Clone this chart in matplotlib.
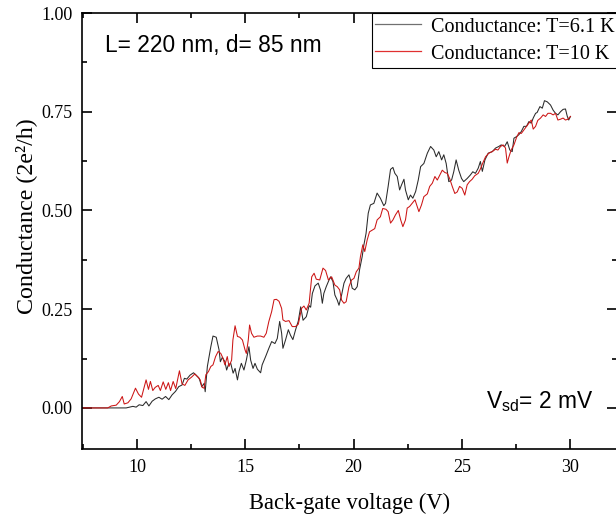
import matplotlib
matplotlib.use("Agg")
import matplotlib.pyplot as plt
from matplotlib.ticker import MultipleLocator

plt.rcParams['mathtext.fontset'] = 'custom'
plt.rcParams['mathtext.rm'] = 'Liberation Sans'
plt.rcParams['mathtext.it'] = 'Liberation Sans:italic'

# ---- data ----
v_black = [7.5, 8.0, 8.5, 9.0, 9.5, 9.81, 9.96, 10.1, 10.27, 10.42, 10.55, 10.7, 10.85, 11.01,
           11.16, 11.32, 11.47, 11.62, 11.78, 11.93, 12.08, 12.19, 12.3, 12.45, 12.61, 12.71,
           12.87, 12.99, 13.1, 13.15, 13.25, 13.41, 13.51, 13.66, 13.79, 13.85, 13.94, 14.06,
           14.14, 14.22, 14.33, 14.44, 14.53, 14.64, 14.71, 14.82, 14.94, 15.05, 15.17, 15.25,
           15.36, 15.45, 15.56, 15.71, 15.78, 15.94, 16.09, 16.22, 16.37, 16.48, 16.59, 16.68,
           16.74, 16.86, 16.99, 17.09, 17.2, 17.32, 17.45, 17.56, 17.67, 17.82, 17.95, 18.02,
           18.1, 18.22, 18.37, 18.48, 18.56, 18.63, 18.74, 18.87, 18.94, 19.05, 19.14, 19.25,
           19.33, 19.45, 19.56, 19.66, 19.79, 19.86, 19.94, 20.06, 20.17, 20.28, 20.4, 20.48,
           20.58, 20.68, 20.78, 20.94, 21.09, 21.24, 21.4, 21.48, 21.6, 21.71, 21.82, 21.91,
           22.02, 22.13, 22.22, 22.33, 22.4, 22.53, 22.63, 22.74, 22.87, 22.99, 23.1, 23.25,
           23.41, 23.56, 23.71, 23.82, 23.94, 24.07, 24.17, 24.28, 24.4, 24.53, 24.63, 24.74,
           24.86, 24.99, 25.09, 25.25, 25.4, 25.51, 25.63, 25.76, 25.86, 25.95, 26.07, 26.22,
           26.41, 26.56, 26.71, 26.82, 26.98, 27.1, 27.22, 27.33, 27.41, 27.53, 27.64, 27.75,
           27.87, 27.99, 28.1, 28.21, 28.3, 28.41, 28.48, 28.61, 28.72, 28.82, 28.95, 29.1,
           29.22, 29.33, 29.44, 29.56, 29.68, 29.79, 29.87, 29.94, 30.02]
g_black = [0, 0, 0, 0, 0.0, .004, .002, .008, .006, .016, .005, .017, .023, .027,
           .022, .029, .021, .033, .042, .054, .058, .075, .073, .083, .089, .084,
           .075, .054, .062, .041, .105, .155, .182, .179, .147, .117, .128, .117,
           .096, .109, .113, .088, .100, .071, .092, .113, .096, .121, .155, .121,
           .100, .113, .098, .089, .109, .130, .151, .168, .163, .176, .219, .189,
           .151, .172, .198, .184, .173, .197, .22, .256, .222, .231, .259, .255,
           .29, .309, .316, .298, .265, .29, .307, .324, .332, .32, .286, .273,
           .26, .286, .316, .328, .337, .324, .303, .299, .307, .35, .383, .413,
           .442, .493, .514, .518, .544, .531, .512, .518, .561, .604, .609, .594,
           .586, .552, .565, .579, .552, .527, .539, .531, .548, .577, .611, .619,
           .645, .662, .653, .636, .649, .628, .641, .619, .573, .577, .598, .628,
           .602, .581, .573, .581, .590, .598, .594, .607, .624, .599, .628, .645,
           .649, .658, .662, .666, .662, .674, .653, .649, .683, .687, .692, .70,
           .713, .713, .725, .721, .734, .746, .748, .763, .759, .778, .775, .767,
           .754, .746, .742, .75, .756, .757, .739, .729, .738]

v_red = [7.5, 8.0, 8.65, 8.81, 9.04, 9.19, 9.32, 9.41, 9.58, 9.73, 9.93, 10.07, 10.21, 10.42,
         10.53, 10.62, 10.73, 10.84, 10.98, 11.08, 11.21, 11.33, 11.45, 11.55, 11.67, 11.79,
         11.96, 12.08, 12.21, 12.36, 12.52, 12.67, 12.82, 12.92, 13.01, 13.1, 13.18, 13.3,
         13.41, 13.51, 13.63, 13.75, 13.87, 13.97, 14.06, 14.17, 14.25, 14.37, 14.43, 14.53,
         14.64, 14.75, 14.87, 14.99, 15.05, 15.14, 15.2, 15.29, 15.4, 15.56, 15.71, 15.86,
         15.97, 16.09, 16.22, 16.33, 16.44, 16.56, 16.68, 16.74, 16.86, 17.02, 17.17, 17.32,
         17.45, 17.6, 17.71, 17.82, 17.95, 18.07, 18.18, 18.28, 18.44, 18.59, 18.71, 18.84,
         18.99, 19.14, 19.25, 19.36, 19.45, 19.56, 19.66, 19.79, 19.91, 20.02, 20.13, 20.25,
         20.32, 20.43, 20.52, 20.63, 20.74, 20.86, 20.98, 21.09, 21.24, 21.35, 21.5, 21.6,
         21.71, 21.82, 21.94, 22.07, 22.18, 22.28, 22.4, 22.48, 22.59, 22.71, 22.84, 22.94,
         23.02, 23.14, 23.25, 23.41, 23.52, 23.64, 23.76, 23.87, 23.99, 24.1, 24.22, 24.33,
         24.44, 24.56, 24.68, 24.79, 24.9, 25.02, 25.14, 25.25, 25.36, 25.48, 25.6, 25.76,
         25.86, 25.97, 26.1, 26.25, 26.4, 26.56, 26.67, 26.79, 26.91, 27.02, 27.1, 27.18,
         27.28, 27.41, 27.53, 27.64, 27.75, 27.87, 27.99, 28.1, 28.21, 28.3, 28.41, 28.51,
         28.64, 28.76, 28.87, 28.98, 29.1, 29.22, 29.33, 29.44, 29.56, 29.68, 29.79, 29.9, 30.02]
g_red = [0, 0, 0, .005, .007, .016, .029, .010, .013, .023, .050, .035, .027, .071,
         .047, .067, .044, .052, .057, .044, .066, .047, .064, .044, .067, .049,
         .094, .061, .057, .071, .078, .086, .078, .071, .052, .05, .084, .092,
         .105, .109, .130, .143, .138, .126, .109, .130, .105, .121, .172, .208,
         .181, .179, .172, .147, .138, .172, .21, .189, .179, .182, .182, .179,
         .189, .219, .244, .274, .275, .270, .252, .223, .219, .221, .206, .206,
         .212, .252, .258, .248, .265, .332, .341, .326, .324, .354, .348, .324,
         .332, .311, .307, .299, .273, .265, .269, .307, .324, .328, .345, .354,
         .383, .413, .396, .425, .446, .45, .454, .476, .484, .505, .503, .497,
         .468, .476, .489, .5, .476, .459, .476, .506, .51, .518, .527, .51,
         .497, .514, .535, .542, .561, .569, .586, .577, .59, .602, .596, .594,
         .581, .561, .543, .547, .561, .556, .539, .565, .573, .579, .588, .594,
         .605, .62, .636, .645, .649, .655, .653, .662, .666, .658, .62, .636,
         .653, .666, .685, .697, .695, .704, .713, .721, .729, .706, .713, .728,
         .734, .742, .738, .746, .746, .742, .746, .729, .731, .734, .729, .731, .738]

x_ticks = [10, 15, 20, 25, 30]
y_ticks = [0.00, 0.25, 0.50, 0.75, 1.00]
y_ticklabels = ["0.00", "0.25", "0.50", "0.75", "1.00"]

W, H = 616, 518
fig = plt.figure(figsize=(W / 100, H / 100), dpi=100)
ax = fig.add_axes([82 / W, 1 - 449 / H, (617 - 82) / W, (449 - 13) / H])

ax.plot(v_black, g_black, color='#2a2a2a', lw=0.75, label='Conductance: T=6.1 K')
ax.plot(v_red, g_red, color='#cc1515', lw=0.75, label='Conductance: T=10 K')

ax.set_xlim(7.46, 32.17)
ax.set_ylim(-0.104, 1.0)
ax.set_xticks(x_ticks)
ax.set_yticks(y_ticks)
ax.set_yticklabels(y_ticklabels)
ax.xaxis.set_minor_locator(MultipleLocator(2.5))
ax.yaxis.set_minor_locator(MultipleLocator(0.125))
ax.tick_params(which='both', direction='in', top=True, right=True, width=1.2,
               labelsize=13, pad=7)
ax.tick_params(which='major', length=7)
ax.tick_params(which='minor', length=3.8)
for lab in ax.get_xticklabels() + ax.get_yticklabels():
    lab.set_family('Liberation Serif')
for s in ax.spines.values():
    s.set_linewidth(1.2)

ax.set_xlabel('Back-gate voltage (V)', family='Liberation Serif', fontsize=16.3, labelpad=12)
ax.set_ylabel('Conductance (2e²/h)', family='Liberation Serif', fontsize=17.3)
ax.yaxis.set_label_coords(-0.084, 0.533)

fig.text(105 / W, 1 - 52 / H, 'L= 220 nm, d= 85 nm', family='Liberation Sans',
         fontsize=16.4, va='baseline', ha='left')
fig.text(486 / W, 1 - 408 / H, r'V$_{\mathregular{sd}}$= 2 mV', family='Liberation Sans',
         fontsize=16.4, va='baseline', ha='left')

leg = ax.legend(loc='upper left', bbox_to_anchor=(372 / W, 1 - 13 / H),
                bbox_transform=fig.transFigure, borderaxespad=0,
                prop={'family': 'Liberation Serif', 'size': 14.5},
                frameon=True, fancybox=False, framealpha=1, edgecolor='black',
                handlelength=2.3, handleheight=1.05, handletextpad=0.5,
                borderpad=0.15, labelspacing=0.3)
leg.get_frame().set_linewidth(0.8)
leg.get_lines()[0].set_color('#707070')
leg.get_lines()[1].set_color('#e03030')
for line in leg.get_lines():
    line.set_linewidth(0.9)

fig.savefig('out.png', dpi=100)
